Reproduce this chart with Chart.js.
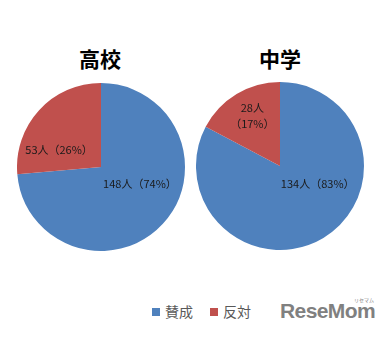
<!DOCTYPE html>
<html>
<head>
<meta charset="utf-8">
<script src="https://cdn.jsdelivr.net/npm/chart.js@4/dist/chart.umd.min.js"></script>
<style>
  body { margin: 0; background: #fff; }
  #wrap { position: relative; width: 390px; height: 341px; overflow: hidden; font-family: "Noto Sans CJK JP", sans-serif; }
  .title { position: absolute; top: 44px; width: 120px; text-align: center; font-weight: bold; font-size: 21px; color: #000; line-height: 28px; }
  .box { position: absolute; width: 168px; height: 168px; }
  #legend { position: absolute; top: 300px; left: 152px; font-size: 14px; color: #595959; line-height: 22px; white-space: nowrap; }
  #legend span.sw { display: inline-block; width: 8px; height: 8px; margin-right: 5px; vertical-align: 1px; }
  #legend span.gap { display: inline-block; width: 17px; }
  #logo { position: absolute; left: 280px; top: 299px; font-family: "Liberation Sans", Arial, sans-serif; font-weight: bold; font-size: 21px; color: #808080; letter-spacing: -0.6px; white-space: nowrap; }
  #logo small { position: absolute; left: 74px; top: -3px; font-size: 5px; font-weight: normal; letter-spacing: 0; white-space: nowrap; font-family: "Noto Sans CJK JP", sans-serif; }
</style>
</head>
<body>
<div id="wrap">
  <div class="title" style="left:40px">高校</div>
  <div class="title" style="left:220px">中学</div>
  <div class="box" style="left:17px; top:83px"><canvas id="pie1"></canvas></div>
  <div class="box" style="left:196px; top:82px"><canvas id="pie2"></canvas></div>
  <div id="legend"></div>
  <div id="logo">ReseMom<small>リセマム</small></div>
</div>
<script>
// データ
const categories = ["賛成", "反対"];
const koukouCounts = [148, 53];
const koukouPct = [74, 26];
const chugakuCounts = [134, 28];
const chugakuPct = [83, 17];
const colors = ["#4F81BD", "#C0504D"];

// ラベルの微調整 (px)
const nudge1 = [[8, -12], [-11, 11]];
const nudge2 = [[16, -18], [-6, -14]];

// 凡例
const legend = document.getElementById("legend");
categories.forEach((c, i) => {
    legend.innerHTML += `<span class="sw" style="background:${colors[i]}"></span>${c}` + (i === 0 ? '<span class="gap"></span>' : "");
});

// スライスにラベルを描くプラグイン
const sliceLabels = {
    id: "sliceLabels",
    afterDatasetsDraw(chart, args, opts) {
        const ctx = chart.ctx;
        const meta = chart.getDatasetMeta(0);
        ctx.save();
        ctx.font = "11px 'Noto Sans CJK JP', sans-serif";
        ctx.fillStyle = "#1a1a1a";
        ctx.textAlign = "center";
        ctx.textBaseline = "middle";
        meta.data.forEach((arc, i) => {
            const mid = (arc.startAngle + arc.endAngle) / 2;
            const r = arc.outerRadius * 0.5;
            const x = arc.x + Math.cos(mid) * r + opts.nudge[i][0];
            const y = arc.y + Math.sin(mid) * r + opts.nudge[i][1];
            const n = opts.counts[i] + "人";
            const p = "（" + opts.pct[i] + "%）";
            if (opts.twoLine[i]) {
                ctx.fillText(n, x, y - 8);
                ctx.fillText(p, x, y + 8);
            } else {
                ctx.fillText(n + p, x, y);
            }
        });
        ctx.restore();
    }
};

function makePie(id, counts, pct, nudge, twoLine) {
    return new Chart(document.getElementById(id), {
        type: "pie",
        data: {
            labels: categories,
            datasets: [{
                data: counts,
                backgroundColor: colors,
                borderWidth: 0
            }]
        },
        options: {
            responsive: true,
            maintainAspectRatio: false,
            animation: false,
            layout: { padding: 0 },
            plugins: {
                legend: { display: false },
                tooltip: { enabled: false },
                sliceLabels: { counts: counts, pct: pct, nudge: nudge, twoLine: twoLine }
            }
        },
        plugins: [sliceLabels]
    });
}

makePie("pie1", koukouCounts, koukouPct, nudge1, [false, false]);
makePie("pie2", chugakuCounts, chugakuPct, nudge2, [false, true]);
</script>
</body>
</html>
